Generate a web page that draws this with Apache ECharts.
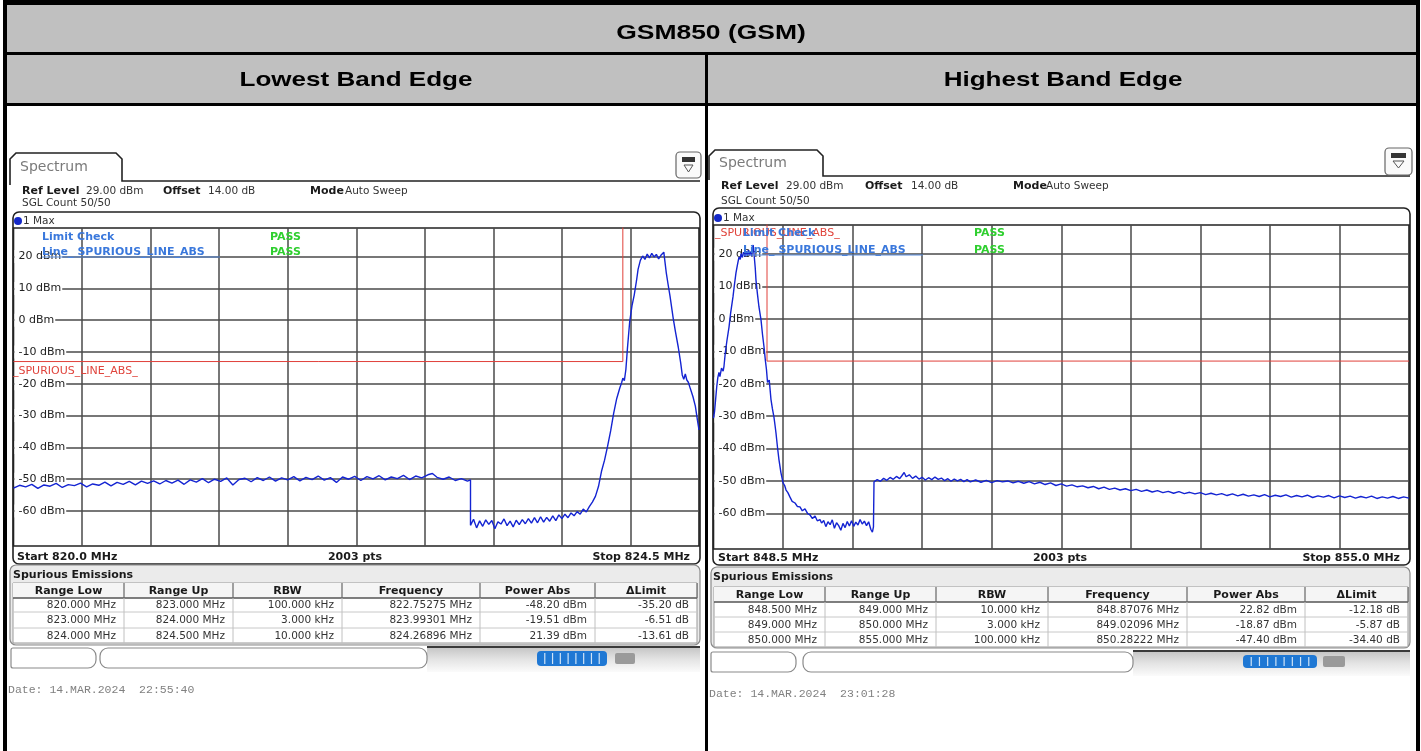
<!DOCTYPE html>
<html><head><meta charset="utf-8">
<script src="https://cdn.jsdelivr.net/npm/echarts@6/dist/echarts.min.js"></script>
<style>html,body{margin:0;padding:0;background:#fff}#c{width:1421px;height:751px}</style>
</head><body><div id="c"></div>
<script>
// ---------------- DATA ----------------
const mainTitle = 'GSM850 (GSM)';
const panelTitles = ['Lowest Band Edge', 'Highest Band Edge'];
const refLevel = '29.00 dBm', offsetVal = '14.00 dB', modeVal = 'Auto Sweep', sglCount = 'SGL Count 50/50';
const yTickValues = [20, 10, 0, -10, -20, -30, -40, -50, -60];
const yMin = -71, yMax = 29;
const leftStart = 820.0, leftStop = 824.5;
const rightStart = 848.5, rightStop = 855.0;
const leftXGrid = [820.45, 820.9, 821.35, 821.8, 822.25, 822.7, 823.15, 823.6, 824.05];
const rightXGrid = [849.15, 849.8, 850.45, 851.1, 851.75, 852.4, 853.05, 853.7, 854.35];
const leftLimit = [[820.0, -13], [824.0, -13], [824.0, 40]];
const rightLimit = [[849.0, 40], [849.0, -13], [855.0, -13]];
const leftTrace = [
[820.00,-52.8],[820.04,-51.9],[820.08,-52.4],[820.12,-51.6],[820.16,-52.9],[820.20,-51.8],[820.24,-52.2],[820.28,-51.3],[820.32,-52.6],[820.36,-51.7],
[820.40,-52.0],[820.44,-51.2],[820.48,-52.4],[820.52,-51.5],[820.56,-51.9],[820.60,-50.9],[820.64,-52.1],[820.68,-51.0],[820.72,-51.6],[820.76,-50.7],
[820.80,-51.8],[820.84,-50.6],[820.88,-51.3],[820.92,-50.5],[820.96,-51.5],[821.00,-50.4],[821.04,-51.2],[821.08,-50.3],[821.12,-51.6],[821.16,-50.2],
[821.20,-50.9],[821.24,-49.8],[821.28,-51.1],[821.32,-50.0],[821.36,-50.7],[821.40,-49.6],[821.44,-51.8],[821.48,-50.1],[821.52,-49.7],[821.56,-50.8],
[821.60,-49.5],[821.64,-50.4],[821.68,-49.3],[821.72,-50.6],[821.76,-49.6],[821.80,-50.2],[821.84,-49.2],[821.88,-50.5],[821.92,-49.4],[821.96,-50.1],
[822.00,-49.0],[822.04,-50.3],[822.08,-49.5],[822.12,-51.0],[822.16,-49.3],[822.20,-50.0],[822.24,-49.1],[822.28,-50.4],[822.32,-49.2],[822.36,-49.9],
[822.40,-48.9],[822.44,-50.2],[822.48,-49.3],[822.52,-49.8],[822.56,-48.8],[822.60,-50.1],[822.64,-49.0],[822.68,-49.6],[822.72,-48.6],[822.75,-48.2],
[822.78,-49.4],[822.82,-50.0],[822.86,-49.3],[822.90,-50.4],[822.94,-49.8],[822.98,-50.6],[823.00,-50.2],[823.00,-64.5],
[823.02,-62.6],[823.04,-65.3],[823.06,-63.1],[823.08,-64.8],[823.10,-62.8],[823.12,-64.2],[823.14,-63.0],[823.16,-65.6],[823.18,-63.4],[823.20,-64.1],
[823.22,-62.5],[823.24,-64.6],[823.26,-63.2],[823.28,-65.0],[823.30,-62.9],[823.32,-64.3],[823.34,-62.7],[823.36,-64.0],[823.38,-62.4],[823.40,-63.8],
[823.42,-62.1],[823.44,-63.7],[823.46,-61.8],[823.48,-63.5],[823.50,-62.0],[823.52,-63.2],[823.54,-61.5],[823.56,-63.0],[823.58,-61.2],[823.60,-62.4],
[823.62,-61.0],[823.64,-62.1],[823.66,-60.6],[823.68,-61.5],[823.70,-60.2],[823.72,-61.0],[823.74,-59.4],[823.76,-60.3],[823.78,-58.6],[823.80,-57.2],
[823.82,-55.4],[823.84,-52.3],[823.86,-47.5],[823.88,-44.0],[823.90,-39.6],[823.92,-34.8],[823.94,-29.2],[823.96,-24.6],[823.98,-21.3],[823.993,-19.51],
[824.00,-18.2],[824.01,-19.0],[824.02,-15.5],[824.03,-9.0],[824.045,-0.5],[824.06,4.5],[824.075,8.0],[824.09,12.5],[824.10,16.0],[824.115,18.8],
[824.13,20.2],[824.145,19.1],[824.16,20.8],[824.175,19.6],[824.19,21.0],[824.205,19.9],[824.22,20.7],[824.235,19.3],[824.25,20.4],[824.269,21.39],
[824.275,19.0],[824.285,15.0],[824.298,11.0],[824.31,7.5],[824.331,0.5],[824.345,-3.5],[824.364,-8.5],[824.38,-13.5],[824.39,-17.2],[824.40,-18.6],
[824.41,-16.9],[824.42,-18.8],[824.43,-19.5],[824.443,-21.5],[824.46,-24.0],[824.476,-27.0],[824.49,-31.5],[824.50,-34.5]
];
const rightTrace = [
[848.500,-30.6],[848.51,-28.5],[848.52,-24.8],[848.53,-21.0],[848.54,-18.2],[848.551,-16.5],[848.56,-17.8],[848.575,-15.2],[848.59,-16.1],[848.598,-14.6],
[848.61,-10.5],[848.625,-6.8],[848.645,-2.5],[848.66,1.8],[848.682,6.8],[848.695,10.4],[848.71,14.2],[848.725,16.9],[848.738,19.1],[848.75,18.4],
[848.757,20.2],[848.77,19.0],[848.78,20.6],[848.794,19.3],[848.805,20.9],[848.815,19.5],[848.825,21.2],[848.835,19.8],[848.845,20.8],[848.855,19.4],
[848.862,21.5],[848.8708,22.82],[848.88,19.6],[848.89,15.8],[848.897,12.0],[848.91,7.9],[848.925,3.7],[848.944,-0.3],[848.958,-4.8],[848.972,-8.6],
[848.985,-12.9],[848.995,-15.6],[849.005,-19.6],[849.021,-18.87],[849.037,-24.8],[849.05,-27.6],[849.065,-30.3],[849.075,-32.8],[849.084,-35.2],[849.098,-39.6],
[849.112,-43.5],[849.13,-47.4],[849.15,-50.6],[849.165,-51.4],[849.178,-52.8],[849.195,-53.6],[849.215,-55.0],[849.235,-56.3],[849.262,-56.8],[849.285,-57.9],
[849.308,-58.0],[849.33,-59.2],[849.355,-58.6],[849.38,-60.1],[849.402,-60.5],[849.425,-61.6],[849.449,-60.8],[849.47,-62.3],[849.495,-61.9],
[849.51,-63.0],[849.53,-62.2],[849.55,-64.1],[849.57,-62.6],[849.59,-63.5],[849.61,-62.0],[849.63,-64.6],[849.65,-62.9],[849.67,-63.8],[849.69,-65.2],
[849.71,-63.1],[849.73,-64.4],[849.75,-62.5],[849.77,-63.9],[849.79,-62.3],[849.81,-64.0],[849.83,-62.7],[849.85,-63.6],[849.87,-61.9],[849.89,-63.3],
[849.91,-62.4],[849.93,-63.8],[849.95,-62.6],[849.97,-64.9],[849.985,-65.8],[849.995,-64.2],[850.00,-64.0],[850.00,-50.3],
[850.03,-49.6],[850.06,-50.1],[850.09,-49.2],[850.12,-49.8],[850.15,-48.9],[850.18,-49.5],[850.21,-48.6],[850.24,-49.3],[850.26,-48.4],[850.282,-47.4],
[850.30,-48.7],[850.33,-48.1],[850.36,-49.2],[850.39,-48.5],[850.42,-49.4],[850.45,-48.9],[850.48,-49.7],[850.51,-49.0],[850.54,-49.6],[850.57,-48.8],
[850.60,-49.5],[850.63,-49.1],[850.66,-49.9],[850.69,-49.3],[850.72,-50.1],[850.75,-49.4],[850.78,-50.0],[850.81,-49.5],[850.84,-50.2],[850.87,-49.6],
[850.90,-50.3],[850.95,-49.7],[851.00,-50.4],[851.05,-49.8],[851.10,-50.5],[851.15,-49.9],[851.20,-50.3],[851.25,-50.0],[851.30,-50.6],[851.35,-50.1],
[851.40,-50.7],[851.45,-50.2],[851.50,-50.9],[851.55,-50.4],[851.60,-51.1],[851.65,-50.6],[851.70,-51.4],[851.75,-50.9],[851.80,-51.6],[851.85,-51.2],
[851.90,-51.8],[851.95,-51.5],[852.00,-52.1],[852.05,-51.7],[852.10,-52.4],[852.15,-51.9],[852.20,-52.6],[852.25,-52.2],[852.30,-52.8],[852.35,-52.4],
[852.40,-53.0],[852.45,-52.6],[852.50,-53.2],[852.55,-52.8],[852.60,-53.4],[852.65,-53.0],[852.70,-53.6],[852.75,-53.2],[852.80,-53.8],[852.85,-53.3],
[852.90,-53.9],[852.95,-53.5],[853.00,-54.0],[853.05,-53.6],[853.10,-54.2],[853.15,-53.8],[853.20,-54.3],[853.25,-53.9],[853.30,-54.5],[853.35,-54.0],
[853.40,-54.6],[853.45,-54.1],[853.50,-54.7],[853.55,-54.3],[853.60,-54.8],[853.65,-54.2],[853.70,-54.9],[853.75,-54.4],[853.80,-54.8],[853.85,-54.3],
[853.90,-55.0],[853.95,-54.5],[854.00,-54.9],[854.05,-54.4],[854.10,-55.1],[854.15,-54.6],[854.20,-55.0],[854.25,-54.5],[854.30,-55.2],[854.35,-54.6],
[854.40,-55.1],[854.45,-54.7],[854.50,-55.3],[854.55,-54.8],[854.60,-55.2],[854.65,-54.7],[854.70,-55.4],[854.75,-54.9],[854.80,-55.3],[854.85,-54.8],
[854.90,-55.4],[854.95,-54.9],[855.00,-55.3]
];
const tableHeaders = ['Range Low', 'Range Up', 'RBW', 'Frequency', 'Power Abs', '\u0394Limit'];
const leftRangeLow = ['820.000 MHz', '823.000 MHz', '824.000 MHz'];
const leftRangeUp = ['823.000 MHz', '824.000 MHz', '824.500 MHz'];
const leftRbw = ['100.000 kHz', '3.000 kHz', '10.000 kHz'];
const leftFreq = ['822.75275 MHz', '823.99301 MHz', '824.26896 MHz'];
const leftPower = ['-48.20 dBm', '-19.51 dBm', '21.39 dBm'];
const leftDelta = ['-35.20 dB', '-6.51 dB', '-13.61 dB'];
const rightRangeLow = ['848.500 MHz', '849.000 MHz', '850.000 MHz'];
const rightRangeUp = ['849.000 MHz', '850.000 MHz', '855.000 MHz'];
const rightRbw = ['10.000 kHz', '3.000 kHz', '100.000 kHz'];
const rightFreq = ['848.87076 MHz', '849.02096 MHz', '850.28222 MHz'];
const rightPower = ['22.82 dBm', '-18.87 dBm', '-47.40 dBm'];
const rightDelta = ['-12.18 dB', '-5.87 dB', '-34.40 dB'];
const leftDate = 'Date: 14.MAR.2024  22:55:40';
const rightDate = 'Date: 14.MAR.2024  23:01:28';
const sweepPoints = '2003 pts';

// ---------------- LAYOUT HELPERS ----------------
const FONT = '"DejaVu Sans"';
function txt(x, y, s, o) { o = o || {}; return { type: 'text', x: x, y: y, z: (o.z != null ? o.z : 5), silent: true, scaleX: o.sx || 1,
  style: { text: s, fill: o.c || '#1a1a1a', font: (o.b ? 'bold ' : '') + (o.fs || 10.5) + 'px ' + (o.ff || FONT), align: o.a || 'left', verticalAlign: 'middle' } }; }
function rect(x, y, w, h, o) { o = o || {}; return { type: 'rect', z: (o.z != null ? o.z : -3), silent: true,
  shape: { x: x, y: y, width: w, height: h, r: o.r || 0 }, style: { fill: o.fill || 'none', stroke: o.stroke || 'none', lineWidth: o.lw || 1 } }; }
function line(x1, y1, x2, y2, c, w, z) { return { type: 'line', z: (z != null ? z : -2), silent: true, shape: { x1: x1, y1: y1, x2: x2, y2: y2 }, style: { stroke: c, lineWidth: w || 1 } }; }

const GL = { tabX:10, tabY:153, tabW:112, tabB:181, lineX2:700, specX:20, specY:167,
  iconX:676, iconY:152, iconW:25, iconH:26,
  refY:191, sglY:203, refX:22, refValX:86, offX:163, offValX:208, modeX:310, modeValX:345,
  frX:13, frY:212, frW:687, frH:352, maxY:221, dotX:18,
  lcX:42, lcY:237, lnY:252, ulY:257, ulX2:220, passX:270, spX:13, spY:371,
  footY:557, startX:17, ptsX:355, stopX:690,
  pnX:10, pnY:565, pnW:690, pnH:80, ttlX:13, ttlY:575,
  cols:[13,124,233,342,480,595,697], hTop:583, rowsB:[598,612,628,643],
  bandX:427, bandY:647, bandW:273, bandH:25,
  b1:[11,648,85,20], b2:[100,648,327,20], prog:[537,651,70,15], ico:[615,653,20,11],
  dateX:8, dateY:690 };
const GR = { tabX:709, tabY:150, tabW:114, tabB:176, lineX2:1410, specX:719, specY:163,
  iconX:1385, iconY:148, iconW:27, iconH:27,
  refY:186, sglY:201, refX:721, refValX:786, offX:865, offValX:911, modeX:1013, modeValX:1046,
  frX:713, frY:208, frW:697, frH:357, maxY:218, dotX:718,
  lcX:743, lcY:233, lnY:250, ulY:255, ulX2:923, passX:974, spX:715, spY:233,
  footY:558, startX:718, ptsX:1060, stopX:1400,
  pnX:711, pnY:567, pnW:699, pnH:81, ttlX:713, ttlY:577,
  cols:[714,825,936,1048,1187,1305,1408], hTop:587, rowsB:[602,617,632,647],
  bandX:1133, bandY:651, bandW:277, bandH:25,
  b1:[711,652,85,20], b2:[803,652,330,20], prog:[1243,655,74,13], ico:[1323,656,22,11],
  dateX:709, dateY:694 };

function panel(g, start, stop, cols, date) {
  const e = [];
  e.push({ type: 'polyline', z: -2, silent: true, shape: { points: [[g.tabX, g.tabB + 4], [g.tabX, g.tabY + 6], [g.tabX + 6, g.tabY], [g.tabX + g.tabW - 6, g.tabY], [g.tabX + g.tabW, g.tabY + 6], [g.tabX + g.tabW, g.tabB], [g.lineX2, g.tabB]] }, style: { stroke: '#222', lineWidth: 1.6, fill: 'none' } });
  e.push(txt(g.specX, g.specY, 'Spectrum', { fs: 14, c: '#7a7a7a' }));
  e.push(rect(g.iconX, g.iconY, g.iconW, g.iconH, { r: 4, stroke: '#666', lw: 1.2, fill: '#fafafa', z: -1 }));
  e.push(rect(g.iconX + 6, g.iconY + 5, g.iconW - 12, 5, { fill: '#333', z: 0 }));
  e.push({ type: 'polygon', z: 0, silent: true, shape: { points: [[g.iconX + 8, g.iconY + 13], [g.iconX + g.iconW - 8, g.iconY + 13], [g.iconX + g.iconW / 2, g.iconY + 20]] }, style: { stroke: '#555', fill: 'none', lineWidth: 1 } });
  e.push(txt(g.refX, g.refY, 'Ref Level', { b: 1, fs: 11 }));
  e.push(txt(g.refValX, g.refY, refLevel, { c: '#333' }));
  e.push(txt(g.offX, g.refY, 'Offset', { b: 1, fs: 11 }));
  e.push(txt(g.offValX, g.refY, offsetVal, { c: '#333' }));
  e.push(txt(g.modeX, g.refY, 'Mode', { b: 1, fs: 11 }));
  e.push(txt(g.modeValX, g.refY, modeVal, { c: '#333' }));
  e.push(txt(g.refX, g.sglY, sglCount, { c: '#333' }));
  e.push(rect(g.frX, g.frY, g.frW, g.frH, { r: 6, stroke: '#222', lw: 1.6, fill: '#fff', z: -4 }));
  e.push({ type: 'circle', z: 0, silent: true, shape: { cx: g.dotX, cy: g.maxY, r: 4 }, style: { fill: '#1428c8' } });
  e.push(txt(g.dotX + 5, g.maxY, '1 Max', { c: '#333' }));
  e.push(txt(g.startX, g.footY, 'Start ' + start.toFixed(1) + ' MHz', { b: 1, fs: 11 }));
  e.push(txt(g.ptsX, g.footY, sweepPoints, { b: 1, fs: 11, a: 'center' }));
  e.push(txt(g.stopX, g.footY, 'Stop ' + stop.toFixed(1) + ' MHz', { b: 1, fs: 11, a: 'right' }));
  e.push(txt(g.spX, g.spY, '_SPURIOUS_LINE_ABS_', { fs: 11, c: '#e0443c', z: 6 }));
  e.push(txt(g.lcX, g.lcY, 'Limit Check', { b: 1, fs: 11, c: '#3a78dc', z: 7 }));
  e.push(txt(g.lcX, g.lnY, 'Line_ SPURIOUS_LINE_ABS', { b: 1, fs: 11, c: '#3a78dc', z: 7 }));
  e.push(line(g.lcX, g.ulY, g.ulX2, g.ulY, '#5a8ee0', 1, 7));
  e.push(txt(g.passX, g.lcY, 'PASS', { b: 1, fs: 11, c: '#2fcf2f', z: 7 }));
  e.push(txt(g.passX, g.lnY, 'PASS', { b: 1, fs: 11, c: '#2fcf2f', z: 7 }));
  e.push(rect(g.pnX, g.pnY, g.pnW, g.pnH, { r: 6, stroke: '#8a8a8a', lw: 1.2, fill: '#ebebeb', z: -4 }));
  e.push(txt(g.ttlX, g.ttlY, 'Spurious Emissions', { b: 1, fs: 11 }));
  const c = g.cols, rb = g.rowsB;
  e.push(rect(c[0], g.hTop, c[6] - c[0], rb[3] - g.hTop, { fill: '#fff', stroke: '#999', lw: 1, z: -3 }));
  e.push(rect(c[0], g.hTop, c[6] - c[0], rb[0] - g.hTop, { fill: '#f5f5f5', z: -2.5 }));
  e.push(line(c[0], rb[0], c[6], rb[0], '#555', 1.3));
  e.push(line(c[0], rb[1], c[6], rb[1], '#c8c8c8', 1));
  e.push(line(c[0], rb[2], c[6], rb[2], '#c8c8c8', 1));
  for (let i = 1; i < 6; i++) {
    e.push(line(c[i], g.hTop, c[i], rb[0], '#666', 1.2));
    e.push(line(c[i], rb[0], c[i], rb[3], '#c0c0c0', 1));
  }
  e.push(line(c[6], g.hTop, c[6], rb[0], '#666', 1.2));
  for (let i = 0; i < 6; i++) e.push(txt((c[i] + c[i + 1]) / 2, (g.hTop + rb[0]) / 2 + 0.5, tableHeaders[i], { b: 1, fs: 11, a: 'center' }));
  for (let r = 0; r < 3; r++) {
    const cy = (rb[r] + rb[r + 1]) / 2 + 0.5;
    for (let i = 0; i < 6; i++) e.push(txt(c[i + 1] - 8, cy, cols[i][r], { fs: 10.5, a: 'right', c: '#333' }));
  }
  e.push(rect(g.bandX, g.bandY, g.bandW, g.bandH, { fill: new echarts.graphic.LinearGradient(0, 0, 0, 1, [{ offset: 0, color: '#c4c4c4' }, { offset: 0.5, color: '#e4e4e4' }, { offset: 1, color: '#fbfbfb' }]), z: -4 }));
  e.push(line(g.bandX, g.bandY, g.bandX + g.bandW, g.bandY, '#3a3a3a', 2));
  e.push(rect(g.b1[0], g.b1[1], g.b1[2], g.b1[3], { r: [2, 8, 8, 2], stroke: '#8a8a8a', lw: 1.2, fill: '#fff' }));
  e.push(rect(g.b2[0], g.b2[1], g.b2[2], g.b2[3], { r: 8, stroke: '#8a8a8a', lw: 1.2, fill: '#fff' }));
  e.push(rect(g.prog[0], g.prog[1], g.prog[2], g.prog[3], { r: 4, fill: '#1f78d4' }));
  for (let k = 1; k < 9; k++) { const x = g.prog[0] + g.prog[2] * k / 9; e.push(line(x, g.prog[1] + 2, x, g.prog[1] + g.prog[3] - 2, '#cfe3f7', 1.2, -1)); }
  e.push(rect(g.ico[0], g.ico[1], g.ico[2], g.ico[3], { r: 2, fill: '#9a9a9a' }));
  e.push(txt(g.dateX, g.dateY, date, { ff: '"Liberation Mono"', fs: 11.5, c: '#808080' }));
  return e;
}

const frame = [
  rect(7, 5, 1410, 48, { fill: '#c0c0c0', z: -6 }),
  rect(7, 55, 1410, 48, { fill: '#c0c0c0', z: -6 }),
  rect(3, 0, 1417, 5, { fill: '#000', z: -1 }),
  rect(3, 0, 4, 751, { fill: '#000', z: -1 }),
  rect(1416, 0, 4, 751, { fill: '#000', z: -1 }),
  rect(3, 52, 1417, 3, { fill: '#000', z: -1 }),
  rect(3, 103, 1417, 3, { fill: '#000', z: -1 }),
  rect(705, 52, 3, 699, { fill: '#000', z: -1 }),
  txt(711, 33, mainTitle, { b: 1, fs: 21, ff: '"Liberation Sans"', a: 'center', sx: 1.26, c: '#000' }),
  txt(356, 80, panelTitles[0], { b: 1, fs: 21, ff: '"Liberation Sans"', a: 'center', sx: 1.24, c: '#000' }),
  txt(1063, 80, panelTitles[1], { b: 1, fs: 21, ff: '"Liberation Sans"', a: 'center', sx: 1.24, c: '#000' })
];

const elements = frame
  .concat(panel(GL, leftStart, leftStop, [leftRangeLow, leftRangeUp, leftRbw, leftFreq, leftPower, leftDelta], leftDate))
  .concat(panel(GR, rightStart, rightStop, [rightRangeLow, rightRangeUp, rightRbw, rightFreq, rightPower, rightDelta], rightDate));

// ---------------- AXES ----------------
const gridColor = '#4a4a4a';
function xAx(gi, min, max, ticks) {
  return { type: 'value', gridIndex: gi, min: min, max: max, axisLine: { show: false },
    axisTick: { show: false, customValues: ticks }, axisLabel: { show: false },
    splitLine: { show: true, lineStyle: { color: gridColor, width: 1.5 } } };
}
function yGridAx(gi) {
  return { type: 'value', gridIndex: gi, min: yMin, max: yMax, z: 0, position: 'left', axisLine: { show: false },
    axisTick: { show: false, customValues: yTickValues }, axisLabel: { show: false },
    splitLine: { show: true, lineStyle: { color: gridColor, width: 1.5 } } };
}
function yLabAx(gi) {
  return { type: 'value', gridIndex: gi, min: yMin, max: yMax, z: 1, position: 'left', axisLine: { show: false },
    axisTick: { show: false }, splitLine: { show: false },
    axisLabel: { show: true, inside: true, margin: 1, customValues: yTickValues, formatter: function (v) { return v + ' dBm'; },
      color: '#222', fontFamily: 'DejaVu Sans', fontSize: 11, backgroundColor: '#fff', padding: [1, 1, 1, 4] } };
}
function gridOf(l, t, w, h) {
  return { left: l, top: t, width: w, height: h, show: true, borderColor: '#222', borderWidth: 1.6,
    backgroundColor: 'rgba(0,0,0,0)', containLabel: false, outerBoundsMode: 'none' };
}
function traceSeries(xi, yi, data) {
  return { type: 'line', xAxisIndex: xi, yAxisIndex: yi, data: data, symbol: 'none', showSymbol: false, silent: true,
    lineStyle: { color: '#1424d2', width: 1.4 }, z: 3, clip: true, animation: false };
}
function limitSeries(xi, yi, data) {
  return { type: 'line', xAxisIndex: xi, yAxisIndex: yi, data: data, symbol: 'none', showSymbol: false, silent: true,
    lineStyle: { color: '#e0403a', width: 1 }, z: 2, clip: true, animation: false };
}

const chart = echarts.init(document.getElementById('c'), null, { renderer: 'canvas' });
chart.setOption({
  animation: false,
  backgroundColor: '#fff',
  grid: [gridOf(13.5, 228, 685.5, 318), gridOf(713.5, 225, 695.5, 324)],
  xAxis: [xAx(0, leftStart, leftStop, leftXGrid), xAx(1, rightStart, rightStop, rightXGrid)],
  yAxis: [yGridAx(0), yLabAx(0), yGridAx(1), yLabAx(1)],
  series: [
    limitSeries(0, 0, leftLimit), traceSeries(0, 0, leftTrace),
    limitSeries(1, 2, rightLimit), traceSeries(1, 2, rightTrace)
  ],
  graphic: { elements: elements }
});
</script>
</body></html>
